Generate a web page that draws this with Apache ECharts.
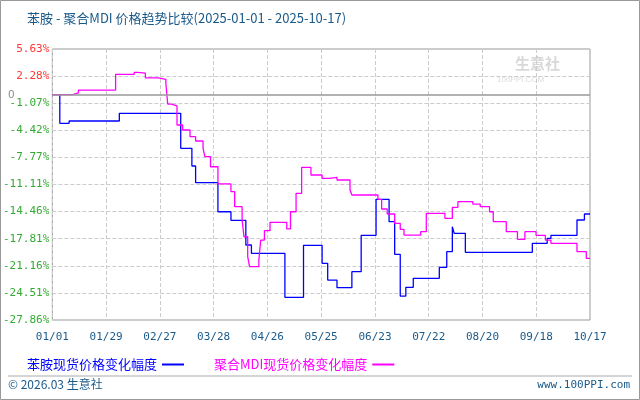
<!DOCTYPE html>
<html><head><meta charset="utf-8">
<script src="https://cdn.jsdelivr.net/npm/echarts@6/dist/echarts.min.js"></script>
<style>html,body{margin:0;padding:0;background:#fff}#c{width:640px;height:400px}</style>
</head><body><div id="c"></div>
<script>
const xLabels = ['01/01','01/29','02/27','03/28','04/26','05/25','06/23','07/22','08/20','09/18','10/17'];
const yTicks = ['-27.86%','-24.51%','-21.16%','-17.81%','-14.46%','-11.11%','-7.77%','-4.42%','-1.07%','2.28%','5.63%'];
// day index since 2025-01-01, change %
const anilineDays = [0,4,9,36,69,75,77,89,96,104,107,125,135,145,148,153,161,166,174,181,184,187,190,194,208,212,215,216,222,258,266,268,282,286,289];
const anilineVals = [0,-3.55,-3.27,-2.32,-6.64,-8.83,-10.89,-14.48,-15.54,-18.59,-19.62,-25.06,-18.63,-20.86,-22.92,-23.87,-21.89,-17.39,-12.95,-15.71,-19.74,-24.9,-23.82,-22.71,-21.35,-19.42,-16.33,-17.15,-19.5,-18.38,-17.77,-17.39,-15.5,-14.76,-14.76];
const mdiDays = [0,11,14,34,44,46,50,57,61,62,64,67,70,74,77,81,82,85,89,96,98,102,103,105,106,111,112,114,117,126,128,131,134,139,145,149,153,160,161,175,177,180,184,187,189,198,201,211,215,218,226,230,235,237,244,250,254,260,265,268,282,287,289];
const mdiVals = [0,0.2,0.56,2.5,2.75,2.66,2.05,1.88,1.39,-1.17,-1.41,-3.76,-4.38,-5.2,-5.74,-6.64,-7.68,-8.92,-11.05,-12.0,-13.86,-15.5,-17.57,-20.04,-21.27,-20.45,-17.98,-16.82,-15.79,-16.6,-14.48,-12.2,-8.99,-9.94,-10.35,-10.23,-10.56,-11.8,-12.41,-12.95,-14.14,-14.76,-15.91,-16.65,-17.36,-16.95,-14.68,-15.29,-13.93,-13.24,-13.53,-13.86,-14.48,-15.71,-16.95,-17.89,-16.95,-17.39,-17.98,-18.38,-19.42,-20.24,-20.24];
const names = ['苯胺现货价格变化幅度','聚合MDI现货价格变化幅度'];
const font = '"Noto Sans CJK SC", "DejaVu Sans", sans-serif';
const yMin=-27.86, yMax=5.63, yStep=3.349;
const c = echarts.init(document.getElementById('c'));
c.setOption({
  animation:false,
  title:{text:'苯胺 - 聚合MDI 价格趋势比较(2025-01-01 - 2025-10-17)',left:22,top:7,textStyle:{color:'#1a5a8a',fontSize:13,fontWeight:'normal',fontFamily:font}},
  graphic:[
    {type:'rect',shape:{x:0.5,y:0.5,width:639,height:399},style:{fill:'none',stroke:'#999'}},
    {type:'line',shape:{x1:8,y1:376,x2:632,y2:376},style:{stroke:'#aaa',lineWidth:1}},
    {type:'text',left:8,top:378,style:{text:'© 2026.03 生意社',fill:'#1a5a8a',font:'12px '+font}},
    {type:'text',right:10,top:380,style:{text:'www.100PPI.com',fill:'#1a5a8a',font:'11px "DejaVu Sans Mono", monospace'}},
    {type:'text',left:515,top:56,style:{text:'生意社',fill:'#d8d8d8',font:'bold 15px '+font}},
    {type:'text',left:497,top:76,style:{text:'100PPI.COM',fill:'#dcdcdc',font:'8px sans-serif'}}
  ],
  legend:{left:22,top:353,align:'right',itemGap:30,itemWidth:22,itemHeight:2,icon:'rect',
    data:[{name:names[0],textStyle:{color:'#0000ff'}},{name:names[1],textStyle:{color:'#ff00ff'}}],
    textStyle:{fontSize:13,fontFamily:font}},
  grid:{left:50,right:50,top:49,bottom:80,show:true,borderColor:'#999',borderWidth:1},
  xAxis:{type:'value',min:0,max:289,interval:28.9,
    axisLine:{show:false},axisTick:{show:false},
    splitLine:{show:true,lineStyle:{type:'dashed',color:'#ccc'}},
    axisLabel:{color:'#1a5a8a',fontSize:11,fontFamily:'"DejaVu Sans Mono", monospace',margin:12,
      formatter:v=>xLabels[Math.round(v/28.9)]||''}},
  yAxis:{type:'value',min:yMin,max:yMax,interval:yStep,
    axisLine:{show:false},axisTick:{show:false},
    splitLine:{show:true,lineStyle:{type:'dashed',color:'#ccc'}},
    axisLabel:{fontSize:11,fontFamily:'"DejaVu Sans Mono", monospace',margin:3,
      formatter:v=>{const i=Math.round((v-yMin)/yStep);return '{'+(i>=9?'p':'n')+'|'+yTicks[i]+'}';},
      rich:{p:{color:'#ff3333',fontSize:11},n:{color:'#33aa33',fontSize:11}}}},
  series:[
    {name:names[0],type:'line',step:'end',symbol:'none',color:'#0000ff',lineStyle:{width:1.3},
      data:anilineDays.map((d,i)=>[d,anilineVals[i]]),
      markLine:{silent:true,symbol:'none',lineStyle:{color:'#999',type:'solid',width:1.5},
        label:{position:'start',formatter:'0',color:'#888',fontSize:11,distance:38},data:[{yAxis:0}]}},
    {name:names[1],type:'line',step:'end',symbol:'none',color:'#ff00ff',lineStyle:{width:1.3},
      data:mdiDays.map((d,i)=>[d,mdiVals[i]])}
  ]
});
</script></body></html>
